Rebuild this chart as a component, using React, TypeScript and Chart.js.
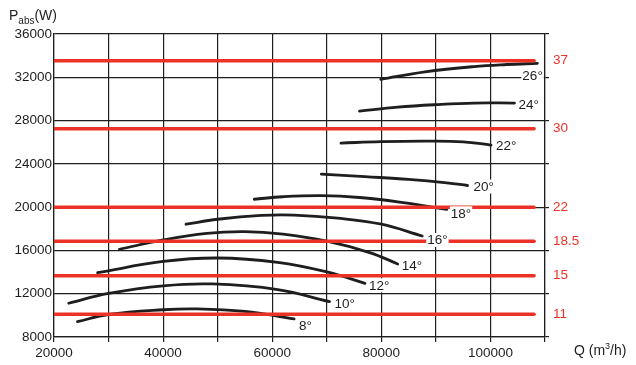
import React, { useEffect, useRef } from "react";
import { Chart, registerables } from "chart.js";

Chart.register(...registerables);

// ---------- data ----------
const Q_MIN = 20000;
const Q_MAX = 110000;
const P_MIN = 8000;
const P_MAX = 36000;

const ANGLE_LABELS = ["8°", "10°", "12°", "14°", "16°", "18°", "20°", "22°", "24°", "26°"];

const Q_8 = [24300, 30000, 40000, 46000, 55000, 64000];
const P_8 = [9420, 10080, 10520, 10600, 10360, 9670];

const Q_10 = [22700, 30000, 40000, 49000, 61000, 70500];
const P_10 = [11120, 12020, 12730, 12900, 12380, 11270];

const Q_12 = [28000, 40000, 50000, 61000, 70000, 77000];
const P_12 = [13940, 14980, 15300, 14900, 14020, 12960];

const Q_14 = [32000, 40000, 48000, 55000, 62000, 70000, 78000, 83000];
const P_14 = [16100, 16970, 17580, 17740, 17500, 16850, 15780, 14750];

const Q_16 = [44200, 50000, 58000, 64000, 72000, 80000, 87500];
const P_16 = [18420, 18880, 19230, 19260, 18980, 18420, 17335];

const Q_18 = [56700, 62000, 69000, 76000, 84000, 92000];
const P_18 = [20730, 20960, 21060, 20890, 20420, 19800];

const Q_20 = [69000, 77000, 85000, 92000, 95800];
const P_20 = [23060, 22820, 22570, 22250, 22000];

const Q_22 = [72600, 80000, 88000, 95000, 100100];
const P_22 = [25920, 26050, 26100, 26040, 25740];

const Q_24 = [76000, 83000, 90000, 97000, 104400];
const P_24 = [28880, 29240, 29470, 29620, 29620];

const Q_26 = [79900, 88000, 97000, 103000, 108600];
const P_26 = [31810, 32500, 32990, 33180, 33290];

const CURVE_Q = [Q_8, Q_10, Q_12, Q_14, Q_16, Q_18, Q_20, Q_22, Q_24, Q_26];
const CURVE_P = [P_8, P_10, P_12, P_14, P_16, P_18, P_20, P_22, P_24, P_26];

// motor power levels (kW) drawn as red horizontal lines
const MOTOR_LABELS = ["11", "15", "18.5", "22", "30", "37"];
const MOTOR_P = [10100, 13660, 16840, 20000, 27250, 33530];
const MOTOR_Q_RANGE = [20000, 108000];

const GRID_P_TICKS = [8000, 12000, 16000, 20000, 24000, 28000, 32000, 36000];

// ---------- layout / style constants ----------
const FONT = "'Liberation Sans', Arial, sans-serif";
const INK = "#1e1e1e";
const RED = "#ec3226";
// label offsets (pixels) from curve end, per curve
const LABEL_OFFSETS: [number, number][] = [
  [5, 7], [5, 2], [4, 2], [4, 2], [5, 4], [4, 4], [6, 1], [5, 1], [4, 2], [-15, 12],
];

const curveLabelPlugin = {
  id: "curveLabels",
  afterDatasetsDraw(chart: any) {
    const { ctx, scales } = chart;
    ctx.save();
    ctx.font = `13.5px ${FONT}`;
    ctx.textBaseline = "middle";
    ctx.textAlign = "left";
    chart.data.datasets.forEach((ds: any) => {
      if (ds.curveIndex === undefined) return;
      const i = ds.curveIndex;
      const last = ds.data[ds.data.length - 1];
      const px = scales.x.getPixelForValue(last.x) + LABEL_OFFSETS[i][0];
      const py = scales.y.getPixelForValue(last.y) + LABEL_OFFSETS[i][1];
      const w = ctx.measureText(ds.label).width;
      ctx.fillStyle = "#ffffff";
      ctx.fillRect(px - 1, py - 7, w + 2, 14);
      ctx.fillStyle = INK;
      ctx.fillText(ds.label, px, py + 0.5);
    });
    ctx.restore();
  },
  afterDraw(chart: any) {
    const { ctx } = chart;
    ctx.save();
    ctx.fillStyle = INK;
    ctx.textBaseline = "alphabetic";
    ctx.textAlign = "left";
    // y title: P_abs(W)
    ctx.font = `14px ${FONT}`;
    let x = 9;
    ctx.fillText("P", x, 20);
    x += ctx.measureText("P").width;
    ctx.font = `10px ${FONT}`;
    ctx.fillText("abs", x, 24);
    x += ctx.measureText("abs").width;
    ctx.font = `14px ${FONT}`;
    ctx.fillText("(W)", x, 20);
    // x title: Q (m3/h)
    x = 574;
    ctx.fillText("Q (m", x, 355);
    x += ctx.measureText("Q (m").width;
    ctx.font = `9px ${FONT}`;
    ctx.fillText("3", x, 349);
    x += ctx.measureText("3").width;
    ctx.font = `14px ${FONT}`;
    ctx.fillText("/h)", x, 355);
    ctx.restore();
  },
};

export default function App() {
  const ref = useRef<HTMLCanvasElement>(null);

  useEffect(() => {
    const motorDatasets = MOTOR_P.map((p, i) => ({
      label: MOTOR_LABELS[i] + " kW",
      data: MOTOR_Q_RANGE.map((q) => ({ x: q, y: p })),
      borderColor: RED,
      borderWidth: 3.5,
      pointRadius: 0,
      borderCapStyle: "round",
      order: 1,
    }));
    const curveDatasets = CURVE_Q.map((qs, i) => ({
      label: ANGLE_LABELS[i],
      curveIndex: i,
      data: qs.map((q, j) => ({ x: q, y: CURVE_P[i][j] })),
      borderColor: INK,
      borderWidth: 2.8,
      pointRadius: 0,
      tension: 0.4,
      borderCapStyle: "round",
      order: 2,
    }));

    const rightTicks = Array.from(new Set([...GRID_P_TICKS, ...MOTOR_P])).sort((a, b) => a - b);

    const chart = new Chart(ref.current as HTMLCanvasElement, {
      type: "line",
      data: { datasets: [...motorDatasets, ...curveDatasets] as any },
      options: {
        animation: false,
        responsive: true,
        maintainAspectRatio: false,
        layout: { padding: { top: 34, left: 0, right: 0, bottom: 0 } },
        plugins: { legend: { display: false }, tooltip: { enabled: false } },
        scales: {
          x: {
            type: "linear",
            min: Q_MIN,
            max: Q_MAX,
            position: "bottom",
            afterFit: (s: any) => { s.height = 28; },
            grid: { color: INK, lineWidth: 1.2, tickLength: 5, tickColor: INK },
            border: { color: INK, width: 1.2 },
            ticks: {
              stepSize: 10000,
              autoSkip: false,
              maxRotation: 0,
              padding: 3,
              color: INK,
              font: { family: FONT, size: 13.5 },
              callback: (v: any) => (Number(v) % 20000 === 0 ? String(v) : ""),
            },
          },
          y: {
            type: "linear",
            min: P_MIN,
            max: P_MAX,
            position: "left",
            afterFit: (s: any) => { s.width = 54; },
            grid: { color: INK, lineWidth: 1.2, drawTicks: false },
            border: { color: INK, width: 1.2 },
            ticks: {
              stepSize: 4000,
              padding: 2,
              color: INK,
              font: { family: FONT, size: 13.5 },
              callback: (v: any) => String(v),
            },
          },
          y2: {
            type: "linear",
            min: P_MIN,
            max: P_MAX,
            position: "right",
            afterFit: (s: any) => { s.width = 91; },
            afterBuildTicks: (s: any) => { s.ticks = rightTicks.map((v) => ({ value: v })); },
            grid: {
              drawOnChartArea: false,
              tickLength: 4,
              lineWidth: 1.2,
              tickColor: (c: any) => (c.tick && GRID_P_TICKS.includes(c.tick.value) ? INK : "rgba(0,0,0,0)"),
            },
            border: { color: INK, width: 1.2 },
            ticks: {
              autoSkip: false,
              padding: 4,
              color: RED,
              font: { family: FONT, size: 13.5 },
              callback: (v: any) => {
                const k = MOTOR_P.indexOf(Number(v));
                return k >= 0 ? MOTOR_LABELS[k] : "";
              },
            },
          },
        },
      } as any,
      plugins: [curveLabelPlugin],
    });
    return () => chart.destroy();
  }, []);

  return (
    <div style={{ position: "absolute", left: 0, top: 0, width: 636, height: 365 }}>
      <canvas ref={ref} />
    </div>
  );
}
